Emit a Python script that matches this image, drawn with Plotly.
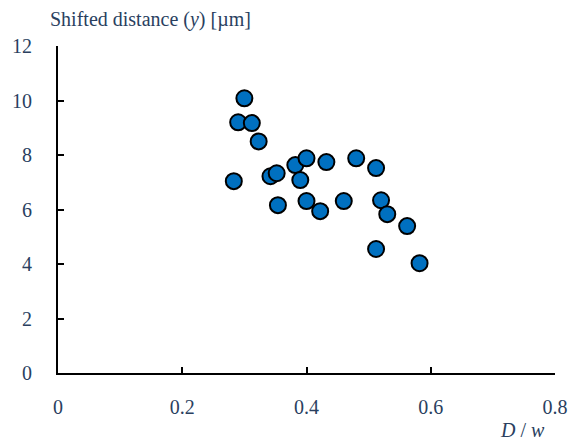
import plotly.graph_objects as go

ratio_Dw = [0.30, 0.29, 0.312, 0.323, 0.283, 0.342, 0.352, 0.354, 0.382, 0.40, 0.39,
            0.432, 0.40, 0.422, 0.46, 0.48, 0.512, 0.52, 0.53, 0.562, 0.512, 0.582]
shift_um = [10.08, 9.2, 9.17, 8.5, 7.04, 7.22, 7.33, 6.16, 7.63, 7.88, 7.08,
            7.74, 6.31, 5.94, 6.31, 7.88, 7.52, 6.34, 5.83, 5.39, 4.55, 4.03]

x_ticks = [0, 0.2, 0.4, 0.6, 0.8]
x_tick_text = ["0", "0.2", "0.4", "0.6", "0.8"]
y_ticks = [0, 2, 4, 6, 8, 10, 12]

FONT = "Liberation Serif"

fig = go.Figure(go.Scatter(
    x=ratio_Dw, y=shift_um, mode="markers",
    marker=dict(size=16, color="#0070C0", line=dict(color="black", width=2)),
    showlegend=False,
))

fig.update_layout(
    width=581, height=443,
    margin=dict(l=55, r=26, t=46, b=70),
    paper_bgcolor="white", plot_bgcolor="white",
    xaxis=dict(range=[0, 0.8], tickvals=x_ticks, ticktext=x_tick_text,
               showgrid=False, zeroline=False, showline=True, linecolor="black",
               linewidth=2, ticks="inside", ticklen=6, tickwidth=1.5,
               tickcolor="black", ticklabelstandoff=15,
               tickfont=dict(family=FONT, size=20)),
    yaxis=dict(range=[0, 12], tickvals=y_ticks,
               showgrid=False, zeroline=False, showline=True, linecolor="black",
               linewidth=2, ticks="inside", ticklen=6, tickwidth=1.5,
               tickcolor="black", ticklabelstandoff=20,
               tickfont=dict(family=FONT, size=20)),
    annotations=[
        dict(text="Shifted distance (<i>y</i>) [µm]", xref="paper", yref="paper",
             x=0, y=1, xanchor="left", yanchor="middle", yshift=27, xshift=-10,
             showarrow=False, font=dict(family=FONT, size=20)),
        dict(text="<i>D</i> / <i>w</i>", xref="x", yref="paper",
             x=0.747, y=0, xanchor="center", yanchor="middle", yshift=-57,
             showarrow=False, font=dict(family=FONT, size=20)),
    ],
)

fig.write_html("out.html")
